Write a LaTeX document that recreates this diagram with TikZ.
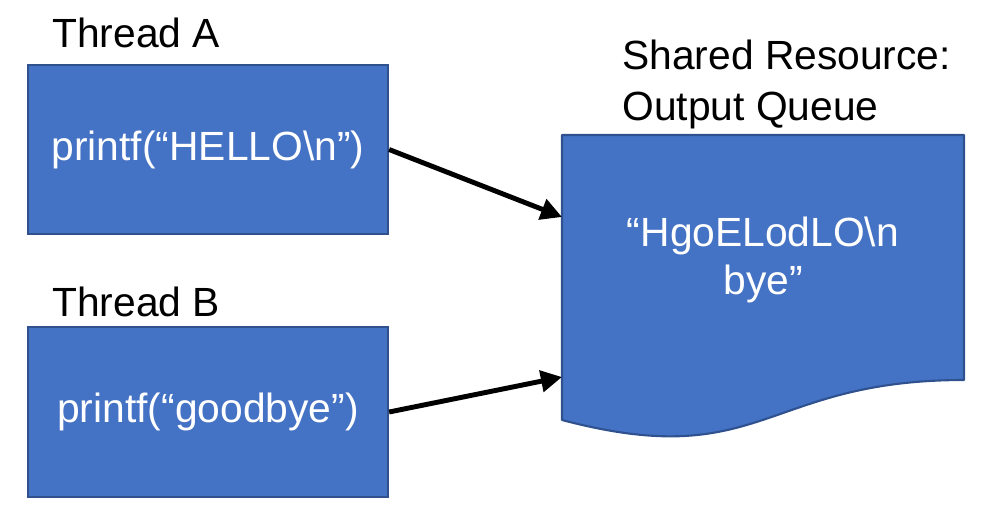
\documentclass[tikz,border=0pt]{standalone}
\usepackage{fontspec}
\setmainfont{Liberation Sans}
\usepackage{tikz}
\usetikzlibrary{positioning,calc,arrows.meta}
\definecolor{boxblue}{HTML}{4472C4}
\definecolor{boxline}{HTML}{2F528F}
\tikzset{
  lbl/.style={inner sep=0pt, anchor=base west, font=\fontsize{29}{34}\selectfont},
  thread/.style={draw=boxline, fill=boxblue, line width=1.5pt, text=white,
    minimum width=9cm, inner sep=0pt, font=\fontsize{29}{34}\selectfont},
  feed/.style={line width=3.5pt, -{Triangle[length=15pt, width=15pt]}}
}

\begin{document}
\begin{tikzpicture}[x=0.025cm, y=-0.025cm]
  \useasboundingbox (0,0) rectangle (1004,522);

  \node[lbl] (labA) at (52,47) {Thread A};
  \node[lbl] (labB) at (52,316) {Thread B};
  \node[lbl] (labR) at (622,69) {Shared Resource:};
  \node[lbl] (labQ) at (622,120) {Output Queue};

  \node[thread, minimum height=4.225cm] (thA) at (208,149.5) {printf(“HELLO\textbackslash n”)};
  \node[thread, minimum height=4.25cm] (thB) at (208,412) {printf(“goodbye”)};

  \draw[draw=boxline, fill=boxblue, line width=1.5pt, line join=round]
    (562,135) -- (964,135) -- (964,380)
    .. controls (763,380) and (763,473) .. (562,420) -- cycle;
  \node[text=white, align=center, inner sep=0pt, font=\fontsize{29}{34}\selectfont]
    (queue) at (763,260) {“HgoELodLO\textbackslash n\\bye”};

  \coordinate (inA) at (562,217);
  \coordinate (inB) at (562,377);
  \draw[feed] (thA.east) -- (inA);
  \draw[feed] (thB.east) -- (inB);
\end{tikzpicture}
\end{document}
